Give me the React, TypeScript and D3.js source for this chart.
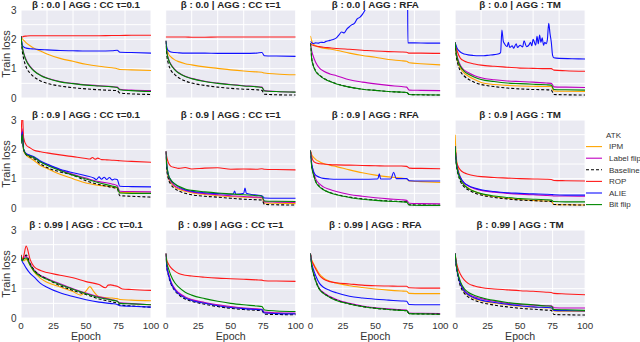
import React from 'react';
import * as d3 from 'd3';

// epochs shared by most series
const EPOCHS = [0, 1, 2, 4, 7, 10, 15, 20, 30, 40, 50, 60, 70, 74, 76, 85, 100];

const ATTACKS = ['IPM', 'Label flip', 'Baseline', 'ROP', 'ALIE', 'Bit flip'];
const BETAS = ['0.0', '0.9', '0.99'];
const AGGS = ['CC τ=0.1', 'CC τ=1', 'RFA', 'TM'];
const Y_TICKS = [0, 1, 2, 3];
const Y_GRID = [0, 0.5, 1, 1.5, 2, 2.5, 3];
const X_TICKS = [0, 25, 50, 75, 100];
const X_GRID_TOP = [0, 20, 40, 60, 80, 100];

// β = 0.0
const B0_CC01 = {
  IPM: [2.1, 2.02, 1.97, 1.88, 1.78, 1.7, 1.6, 1.5, 1.35, 1.25, 1.15, 1.08, 1.03, 1.0, 0.97, 0.96, 0.94],
  'Label flip': [2.1, 1.75, 1.55, 1.3, 1.08, 0.93, 0.78, 0.68, 0.56, 0.5, 0.45, 0.42, 0.39, 0.37, 0.3, 0.27, 0.25],
  Baseline: [2.1, 1.6, 1.35, 1.05, 0.85, 0.72, 0.58, 0.5, 0.41, 0.35, 0.31, 0.28, 0.26, 0.25, 0.17, 0.14, 0.12],
  ROP: [2.1, 2.08, 2.1, 2.11, 2.12, 2.12, 2.12, 2.12, 2.12, 2.12, 2.12, 2.12, 2.13, 2.13, 2.13, 2.14, 2.14],
  ALIE: [2.1, 1.8, 1.74, 1.7, 1.68, 1.67, 1.65, 1.64, 1.62, 1.61, 1.6, 1.6, 1.61, 1.63, 1.56, 1.55, 1.53],
  'Bit flip': [2.1, 1.72, 1.52, 1.27, 1.06, 0.92, 0.77, 0.67, 0.55, 0.49, 0.44, 0.41, 0.38, 0.36, 0.28, 0.25, 0.22],
};
const B0_CC1 = {
  IPM: [1.95, 1.65, 1.52, 1.4, 1.3, 1.24, 1.17, 1.13, 1.06, 1.01, 0.96, 0.92, 0.89, 0.88, 0.85, 0.82, 0.79],
  'Label flip': [1.95, 1.55, 1.35, 1.15, 0.98, 0.86, 0.74, 0.67, 0.57, 0.51, 0.46, 0.42, 0.39, 0.37, 0.25, 0.22, 0.2],
  Baseline: [1.95, 1.4, 1.18, 0.95, 0.8, 0.69, 0.58, 0.51, 0.43, 0.37, 0.33, 0.3, 0.28, 0.26, 0.13, 0.11, 0.1],
  ROP: [2.08, 2.08, 2.08, 2.08, 2.08, 2.08, 2.08, 2.07, 2.07, 2.08, 2.08, 2.08, 2.08, 2.08, 2.08, 2.08, 2.08],
  ALIE: [1.95, 1.7, 1.62, 1.57, 1.55, 1.54, 1.53, 1.53, 1.53, 1.52, 1.52, 1.52, 1.53, 1.55, 1.44, 1.43, 1.42],
  'Bit flip': [1.95, 1.52, 1.33, 1.13, 0.96, 0.85, 0.73, 0.66, 0.56, 0.5, 0.45, 0.41, 0.38, 0.36, 0.24, 0.22, 0.2],
};
const B0_RFA = {
  IPM: [2.12, 1.95, 1.86, 1.78, 1.73, 1.7, 1.67, 1.63, 1.53, 1.45, 1.39, 1.31, 1.27, 1.25, 1.2, 1.17, 1.13],
  'Label flip': [1.87, 1.6, 1.45, 1.22, 1.02, 0.92, 0.82, 0.76, 0.62, 0.54, 0.48, 0.43, 0.39, 0.37, 0.27, 0.26, 0.25],
  Baseline: [1.87, 1.35, 1.15, 0.93, 0.78, 0.68, 0.57, 0.49, 0.37, 0.3, 0.26, 0.22, 0.2, 0.19, 0.12, 0.11, 0.1],
  ROP: [1.87, 1.82, 1.8, 1.77, 1.75, 1.73, 1.71, 1.69, 1.66, 1.63, 1.6, 1.58, 1.57, 1.56, 1.53, 1.53, 1.52],
  'Bit flip': [1.87, 1.33, 1.13, 0.91, 0.77, 0.67, 0.56, 0.48, 0.37, 0.3, 0.26, 0.22, 0.2, 0.19, 0.12, 0.11, 0.1],
};
const B0_RFA_ALIE_EPOCHS = [0, 2, 4, 6, 8, 10, 12, 14, 16, 18, 20, 22, 24, 26, 28, 30, 32, 34, 36, 38, 40, 42, 45, 60, 74.6, 75, 80, 90, 100];
const B0_RFA_ALIE = [1.93, 1.86, 1.88, 1.87, 1.9, 1.89, 1.93, 1.95, 1.98, 2.0, 2.05, 2.15, 2.25, 2.22, 2.35, 2.43, 2.5, 2.55, 2.7, 2.75, 2.85, 3.0, 3.4, 4.5, 4.5, 1.88, 1.88, 1.87, 1.87];
const B0_TM = {
  IPM: [1.89, 1.45, 1.25, 1.02, 0.85, 0.75, 0.63, 0.53, 0.46, 0.43, 0.41, 0.4, 0.39, 0.39, 0.24, 0.23, 0.22],
  'Label flip': [1.89, 1.55, 1.35, 1.12, 0.95, 0.87, 0.76, 0.69, 0.62, 0.58, 0.56, 0.54, 0.51, 0.5, 0.38, 0.37, 0.36],
  Baseline: [1.89, 1.4, 1.18, 0.92, 0.75, 0.65, 0.53, 0.46, 0.39, 0.34, 0.31, 0.29, 0.28, 0.27, 0.12, 0.11, 0.1],
  ROP: [1.89, 1.7, 1.55, 1.36, 1.26, 1.21, 1.16, 1.12, 1.08, 1.05, 1.02, 1.01, 1.0, 1.0, 0.95, 0.93, 0.91],
  'Bit flip': [1.89, 1.5, 1.3, 1.08, 0.91, 0.82, 0.71, 0.63, 0.56, 0.51, 0.49, 0.47, 0.45, 0.44, 0.29, 0.28, 0.27],
};
const B0_TM_ALIE_EPOCHS = [0, 2, 4, 6, 8, 10, 14, 18, 22, 26, 30, 33, 35, 36, 37, 38, 40, 41, 42, 44, 45, 47, 48, 50, 52, 53, 55, 57, 58, 59, 60, 62, 63, 64, 65, 66, 67, 68, 69, 70, 71, 72, 73, 74, 75, 76, 80, 90, 100];
const B0_TM_ALIE = [1.89, 1.66, 1.57, 1.52, 1.49, 1.47, 1.45, 1.44, 1.44, 1.46, 1.48, 1.5, 1.55, 2.32, 1.95, 1.85, 1.75, 1.9, 1.72, 1.78, 1.7, 1.85, 1.72, 1.8, 1.74, 1.95, 1.75, 1.82, 1.9, 1.78, 2.0, 1.8, 2.1, 1.85, 2.15, 1.9, 2.05, 1.8, 1.9, 1.85, 2.0, 2.55, 2.2, 1.9, 1.45, 1.37, 1.35, 1.34, 1.33];

// β = 0.9
const B09_CC01 = {
  IPM: [2.2, 2.4, 1.95, 1.8, 1.7, 1.62, 1.45, 1.35, 1.15, 1.0, 0.85, 0.77, 0.72, 0.68, 0.53, 0.52, 0.5],
  'Label flip': [2.3, 2.7, 2.0, 1.85, 1.78, 1.73, 1.58, 1.48, 1.3, 1.15, 1.02, 0.9, 0.82, 0.76, 0.57, 0.56, 0.55],
  Baseline: [2.3, 2.5, 2.0, 1.82, 1.74, 1.68, 1.5, 1.38, 1.23, 1.12, 0.93, 0.8, 0.7, 0.66, 0.42, 0.4, 0.37],
  'Bit flip': [2.2, 2.5, 2.0, 1.83, 1.77, 1.72, 1.57, 1.46, 1.28, 1.12, 0.99, 0.86, 0.75, 0.7, 0.51, 0.5, 0.5],
};
const B09_CC01_ROP_EPOCHS = [0, 1, 2, 4, 7, 10, 15, 20, 30, 40, 50, 53, 55, 57, 59, 62, 66, 70, 74, 76, 85, 100];
const B09_CC01_ROP = [2.3, 3.3, 2.4, 2.15, 2.05, 1.97, 1.92, 1.88, 1.81, 1.75, 1.69, 1.67, 1.72, 1.66, 1.7, 1.65, 1.64, 1.63, 1.62, 1.61, 1.59, 1.56];
const B09_CC01_ALIE_EPOCHS = [0, 1, 2, 4, 7, 10, 15, 20, 30, 40, 50, 56, 58, 60, 62, 64, 66, 68, 70, 72, 74, 76, 85, 100];
const B09_CC01_ALIE = [2.2, 2.6, 2.0, 1.85, 1.8, 1.75, 1.6, 1.5, 1.32, 1.2, 1.1, 1.02, 0.97, 1.06, 0.98, 1.05, 0.97, 1.04, 0.96, 0.99, 0.97, 0.74, 0.73, 0.72];
const B09_CC1 = {
  IPM: [1.93, 1.3, 1.05, 0.85, 0.72, 0.64, 0.57, 0.52, 0.46, 0.42, 0.39, 0.37, 0.35, 0.34, 0.17, 0.16, 0.15],
  'Label flip': [1.93, 1.35, 1.1, 0.9, 0.75, 0.68, 0.6, 0.55, 0.49, 0.45, 0.42, 0.39, 0.37, 0.36, 0.21, 0.2, 0.19],
  Baseline: [1.93, 1.25, 1.0, 0.8, 0.66, 0.58, 0.5, 0.45, 0.4, 0.37, 0.33, 0.3, 0.28, 0.27, 0.12, 0.11, 0.1],
  ROP: [1.93, 1.7, 1.55, 1.42, 1.38, 1.35, 1.38, 1.33, 1.36, 1.37, 1.32, 1.33, 1.32, 1.34, 1.32, 1.31, 1.3],
  'Bit flip': [1.93, 1.4, 1.15, 0.95, 0.82, 0.74, 0.65, 0.6, 0.55, 0.51, 0.48, 0.45, 0.42, 0.4, 0.24, 0.23, 0.22],
};
const B09_CC1_ALIE_EPOCHS = [0, 1, 2, 4, 7, 10, 15, 20, 30, 40, 50, 52, 53, 54, 58, 60, 61, 62, 66, 70, 74, 76, 85, 100];
const B09_CC1_ALIE = [1.93, 1.4, 1.15, 0.95, 0.82, 0.72, 0.62, 0.57, 0.52, 0.49, 0.47, 0.48, 0.58, 0.47, 0.48, 0.5, 0.68, 0.5, 0.46, 0.44, 0.42, 0.34, 0.33, 0.33];
const B09_RFA = {
  IPM: [1.96, 1.82, 1.75, 1.66, 1.58, 1.52, 1.46, 1.41, 1.3, 1.2, 1.12, 1.06, 1.02, 1.0, 0.92, 0.9, 0.87],
  'Label flip': [1.96, 1.5, 1.3, 1.0, 0.82, 0.72, 0.63, 0.56, 0.46, 0.4, 0.35, 0.31, 0.28, 0.26, 0.16, 0.15, 0.14],
  Baseline: [1.96, 1.42, 1.22, 0.92, 0.74, 0.63, 0.53, 0.46, 0.37, 0.31, 0.27, 0.24, 0.22, 0.21, 0.11, 0.1, 0.09],
  ROP: [1.96, 1.75, 1.62, 1.54, 1.51, 1.5, 1.48, 1.47, 1.46, 1.45, 1.44, 1.43, 1.43, 1.42, 1.36, 1.35, 1.34],
  'Bit flip': [1.96, 1.4, 1.2, 0.9, 0.72, 0.62, 0.52, 0.45, 0.36, 0.3, 0.26, 0.23, 0.21, 0.2, 0.1, 0.09, 0.09],
};
const B09_RFA_ALIE_EPOCHS = [0, 1, 2, 4, 7, 10, 15, 20, 30, 40, 50, 52, 53, 54, 60, 62, 64, 66, 70, 74, 76, 85, 100];
const B09_RFA_ALIE = [1.96, 1.5, 1.3, 1.12, 1.05, 1.01, 0.99, 0.98, 0.98, 0.98, 0.99, 1.0, 1.17, 0.99, 0.99, 1.0, 1.22, 1.0, 1.0, 1.0, 0.93, 0.92, 0.92];
const B09_TM = {
  IPM: [2.5, 1.7, 1.4, 1.05, 0.8, 0.68, 0.56, 0.48, 0.39, 0.33, 0.29, 0.26, 0.24, 0.23, 0.12, 0.11, 0.1],
  'Label flip': [2.1, 1.55, 1.3, 1.05, 0.85, 0.76, 0.66, 0.6, 0.54, 0.5, 0.47, 0.45, 0.43, 0.42, 0.41, 0.41, 0.4],
  Baseline: [2.1, 1.45, 1.2, 0.92, 0.72, 0.62, 0.51, 0.44, 0.36, 0.31, 0.27, 0.25, 0.23, 0.22, 0.12, 0.11, 0.1],
  ROP: [2.1, 1.6, 1.45, 1.3, 1.2, 1.15, 1.1, 1.07, 1.04, 1.02, 1.0, 0.99, 0.98, 0.97, 0.94, 0.93, 0.92],
  ALIE: [2.1, 1.55, 1.3, 1.05, 0.86, 0.77, 0.68, 0.62, 0.56, 0.52, 0.5, 0.48, 0.47, 0.46, 0.45, 0.44, 0.44],
  'Bit flip': [2.1, 1.5, 1.25, 0.98, 0.78, 0.67, 0.56, 0.49, 0.41, 0.36, 0.32, 0.3, 0.28, 0.27, 0.22, 0.21, 0.21],
};

// β = 0.99
const B099_CC01 = {
  'Label flip': [2.1, 1.98, 2.05, 2.1, 1.85, 1.64, 1.45, 1.35, 1.17, 1.0, 0.85, 0.72, 0.62, 0.58, 0.52, 0.49, 0.45],
  Baseline: [2.15, 1.98, 2.05, 2.15, 1.85, 1.64, 1.44, 1.33, 1.1, 0.94, 0.8, 0.65, 0.55, 0.5, 0.44, 0.41, 0.37],
  ALIE: [2.1, 1.92, 1.85, 1.7, 1.52, 1.4, 1.18, 1.05, 0.86, 0.73, 0.62, 0.54, 0.49, 0.46, 0.42, 0.4, 0.37],
  'Bit flip': [2.1, 1.95, 2.0, 2.05, 1.8, 1.6, 1.42, 1.32, 1.14, 0.98, 0.83, 0.7, 0.61, 0.57, 0.5, 0.48, 0.45],
};
const B099_CC01_IPM_EPOCHS = [0, 1, 2, 4, 7, 10, 15, 20, 30, 40, 46, 50, 53, 56, 60, 70, 74, 76, 85, 100];
const B099_CC01_IPM = [2.1, 1.95, 1.95, 2.0, 1.8, 1.58, 1.35, 1.22, 1.06, 0.9, 0.78, 0.92, 1.07, 0.9, 0.72, 0.68, 0.66, 0.63, 0.61, 0.59];
const B099_CC01_ROP_EPOCHS = [0, 1, 2, 4, 7, 10, 15, 20, 30, 40, 50, 60, 65, 67, 69, 72, 74, 78, 85, 100];
const B099_CC01_ROP = [2.15, 2.0, 2.1, 2.45, 2.0, 1.75, 1.62, 1.55, 1.46, 1.37, 1.24, 1.14, 1.03, 1.12, 1.13, 1.1, 1.08, 0.99, 0.97, 0.94];
const B099_CC1 = {
  IPM: [2.2, 1.72, 1.52, 1.22, 0.98, 0.84, 0.7, 0.61, 0.51, 0.43, 0.37, 0.33, 0.3, 0.28, 0.18, 0.16, 0.15],
  'Label flip': [2.2, 1.75, 1.55, 1.25, 1.0, 0.86, 0.72, 0.63, 0.53, 0.45, 0.39, 0.34, 0.31, 0.3, 0.2, 0.18, 0.17],
  Baseline: [2.2, 1.68, 1.47, 1.17, 0.93, 0.79, 0.65, 0.57, 0.47, 0.39, 0.33, 0.29, 0.26, 0.25, 0.13, 0.12, 0.11],
  ROP: [2.2, 1.95, 1.85, 1.72, 1.6, 1.52, 1.46, 1.43, 1.39, 1.36, 1.34, 1.32, 1.3, 1.29, 1.27, 1.26, 1.25],
  ALIE: [2.2, 1.7, 1.5, 1.2, 0.96, 0.82, 0.68, 0.6, 0.5, 0.42, 0.36, 0.32, 0.29, 0.28, 0.17, 0.15, 0.14],
  'Bit flip': [2.2, 1.85, 1.7, 1.45, 1.2, 1.05, 0.88, 0.78, 0.66, 0.57, 0.5, 0.45, 0.41, 0.39, 0.27, 0.24, 0.22],
};
const B099_RFA = {
  IPM: [2.2, 1.98, 1.88, 1.72, 1.5, 1.37, 1.25, 1.19, 1.1, 1.04, 0.99, 0.95, 0.92, 0.91, 0.84, 0.83, 0.83],
  'Label flip': [2.2, 1.8, 1.6, 1.3, 1.0, 0.87, 0.73, 0.63, 0.5, 0.41, 0.35, 0.31, 0.28, 0.27, 0.17, 0.16, 0.15],
  Baseline: [2.2, 1.78, 1.58, 1.27, 0.98, 0.85, 0.71, 0.61, 0.48, 0.39, 0.33, 0.29, 0.26, 0.25, 0.15, 0.14, 0.13],
  ROP: [2.2, 1.95, 1.85, 1.68, 1.45, 1.33, 1.24, 1.2, 1.16, 1.12, 1.1, 1.09, 1.08, 1.08, 1.03, 1.02, 1.02],
  ALIE: [2.2, 1.85, 1.7, 1.45, 1.18, 1.05, 0.94, 0.86, 0.74, 0.68, 0.64, 0.61, 0.58, 0.57, 0.46, 0.45, 0.45],
  'Bit flip': [2.2, 1.78, 1.58, 1.27, 0.97, 0.84, 0.7, 0.6, 0.48, 0.39, 0.33, 0.29, 0.26, 0.25, 0.15, 0.14, 0.13],
};
const B099_TM = {
  IPM: [2.2, 1.76, 1.5, 1.16, 0.9, 0.78, 0.66, 0.59, 0.51, 0.45, 0.4, 0.37, 0.35, 0.34, 0.24, 0.23, 0.22],
  'Label flip': [2.2, 1.78, 1.52, 1.2, 0.95, 0.83, 0.72, 0.66, 0.57, 0.5, 0.46, 0.44, 0.42, 0.42, 0.35, 0.34, 0.34],
  Baseline: [2.2, 1.72, 1.45, 1.1, 0.85, 0.72, 0.6, 0.53, 0.44, 0.38, 0.33, 0.3, 0.27, 0.26, 0.12, 0.11, 0.1],
  ROP: [2.2, 1.9, 1.72, 1.5, 1.3, 1.18, 1.09, 1.04, 0.99, 0.96, 0.93, 0.91, 0.88, 0.87, 0.84, 0.82, 0.79],
  ALIE: [2.2, 1.76, 1.5, 1.17, 0.92, 0.8, 0.68, 0.61, 0.53, 0.47, 0.42, 0.38, 0.36, 0.35, 0.26, 0.25, 0.24],
  'Bit flip': [2.2, 1.8, 1.55, 1.25, 1.0, 0.88, 0.77, 0.7, 0.6, 0.53, 0.48, 0.45, 0.41, 0.4, 0.29, 0.28, 0.26],
};

const COLORS = {
  IPM: '#ffa500',
  'Label flip': '#c000c0',
  Baseline: '#000000',
  ROP: '#ff1a1a',
  ALIE: '#1010ff',
  'Bit flip': '#008800',
};

type Pts = [number, number][];
const zipE = (vals: number[], eps: number[] = EPOCHS): Pts => vals.map((v, i) => [eps[i], v]);

// build each panel's series as point lists
const panelSeries = (base: Record<string, number[]>, extra: Record<string, Pts> = {}) => {
  const out: Record<string, Pts> = {};
  ATTACKS.forEach((a) => {
    if (extra[a]) out[a] = extra[a];
    else if (base[a]) out[a] = zipE(base[a]);
  });
  return out;
};

const GRID_DATA = [
  [
    panelSeries(B0_CC01),
    panelSeries(B0_CC1),
    panelSeries(B0_RFA, { ALIE: zipE(B0_RFA_ALIE, B0_RFA_ALIE_EPOCHS) }),
    panelSeries(B0_TM, { ALIE: zipE(B0_TM_ALIE, B0_TM_ALIE_EPOCHS) }),
  ],
  [
    panelSeries(B09_CC01, {
      ROP: zipE(B09_CC01_ROP, B09_CC01_ROP_EPOCHS),
      ALIE: zipE(B09_CC01_ALIE, B09_CC01_ALIE_EPOCHS),
    }),
    panelSeries(B09_CC1, { ALIE: zipE(B09_CC1_ALIE, B09_CC1_ALIE_EPOCHS) }),
    panelSeries(B09_RFA, { ALIE: zipE(B09_RFA_ALIE, B09_RFA_ALIE_EPOCHS) }),
    panelSeries(B09_TM),
  ],
  [
    panelSeries(B099_CC01, {
      IPM: zipE(B099_CC01_IPM, B099_CC01_IPM_EPOCHS),
      ROP: zipE(B099_CC01_ROP, B099_CC01_ROP_EPOCHS),
    }),
    panelSeries(B099_CC1),
    panelSeries(B099_RFA),
    panelSeries(B099_TM),
  ],
];

const W = 640;
const H = 342;
const PW = 130;
const PH = 88;
const FONT = '"Liberation Sans", Arial, sans-serif';

const App = () => {
  const x = d3.scaleLinear().domain([0, 100]).range([0, PW]);
  const y = d3.scaleLinear().domain([0, 3]).range([PH, 0]);
  const line = d3
    .line<[number, number]>()
    .x((d) => x(d[0]))
    .y((d) => y(d[1]))
    .curve(d3.curveMonotoneX);

  return (
    <svg width={W} height={H} style={{ position: 'absolute', left: 0, top: 0 }} fontFamily={FONT}>
      <rect width={W} height={H} fill="#fff" />
      {GRID_DATA.map((row, r) =>
        row.map((series, c) => {
          const left = 21 + c * 144.7;
          const top = 10 + r * 110;
          const xGrid = r < 2 ? X_GRID_TOP : X_TICKS;
          const clipId = `clip-${r}-${c}`;
          return (
            <g key={`${r}-${c}`} transform={`translate(${left},${top})`}>
              <defs>
                <clipPath id={clipId}>
                  <rect width={PW} height={PH} />
                </clipPath>
              </defs>
              <rect width={PW} height={PH} fill="#eaeaf2" />
              {Y_GRID.map((t) => (
                <line key={'h' + t} x1={0} x2={PW} y1={y(t)} y2={y(t)} stroke="#fff" strokeWidth={1} />
              ))}
              {xGrid.map((t) => (
                <line key={'v' + t} x1={x(t)} x2={x(t)} y1={0} y2={PH} stroke="#fff" strokeWidth={1} />
              ))}
              <g clipPath={`url(#${clipId})`}>
                {ATTACKS.map((a) =>
                  series[a] ? (
                    <path
                      key={a}
                      d={line(series[a]) || ''}
                      fill="none"
                      stroke={COLORS[a]}
                      strokeWidth={1.1}
                      strokeDasharray={a === 'Baseline' ? '3,2' : undefined}
                    />
                  ) : null
                )}
              </g>
              <text
                x={PW / 2}
                y={-2.5}
                textAnchor="middle"
                fontSize={9.8}
                fontWeight="bold"
                fill="#262626"
              >
                {`β : ${BETAS[r]} | AGG : ${AGGS[c]}`}
              </text>
              {c === 0 &&
                Y_TICKS.map((t) => (
                  <text key={'yt' + t} x={-4.5} y={y(t)} dy="0.35em" textAnchor="end" fontSize={10} fill="#333">
                    {t}
                  </text>
                ))}
              {c === 0 && (
                <text
                  transform={`translate(${-11},${PH / 2}) rotate(-90)`}
                  textAnchor="middle"
                  fontSize={11}
                  fill="#333"
                >
                  Train loss
                </text>
              )}
              {r === 2 &&
                X_TICKS.map((t) => (
                  <text key={'xt' + t} x={x(t)} y={PH + 11} textAnchor="middle" fontSize={9.8} fill="#333">
                    {t}
                  </text>
                ))}
              {r === 2 && (
                <text x={PW / 2} y={PH + 22} textAnchor="middle" fontSize={10.6} fill="#333">
                  Epoch
                </text>
              )}
            </g>
          );
        })
      )}
      {/* legend */}
      <g transform="translate(586,135)">
        <text x={20} y={0} dy="0.35em" fontSize={8} fill="#333">
          ATK
        </text>
        {ATTACKS.map((a, i) => (
          <g key={a} transform={`translate(0,${11.6 * (i + 1)})`}>
            <line
              x1={0}
              x2={16}
              stroke={COLORS[a]}
              strokeWidth={1.1}
              strokeDasharray={a === 'Baseline' ? '3,2' : undefined}
            />
            <text x={23} dy="0.35em" fontSize={8} fill="#333">
              {a}
            </text>
          </g>
        ))}
      </g>
    </svg>
  );
};

export default App;
